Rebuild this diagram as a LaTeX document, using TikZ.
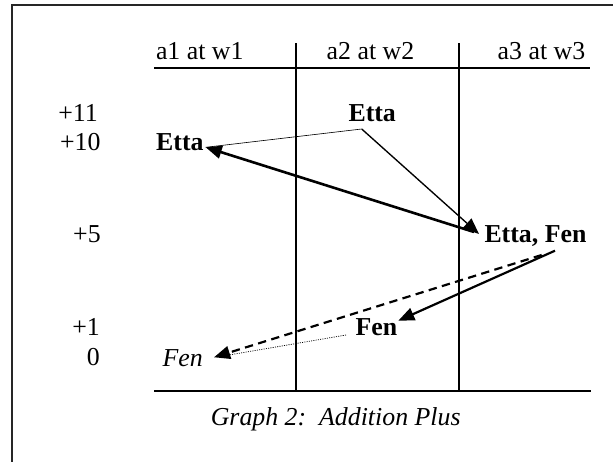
\documentclass[tikz,border=0pt]{standalone}
\usepackage{fontspec}
\setmainfont{Liberation Serif}
\usetikzlibrary{arrows.meta}
\tikzset{
  lbl/.style={inner sep=0pt, outer sep=0pt, anchor=base west, font=\fontsize{12.4}{14}\selectfont},
  lblr/.style={lbl, anchor=base east},
  bl/.style={lbl, font=\fontsize{12.4}{14}\selectfont\bfseries},
  il/.style={lbl, font=\fontsize{12.4}{14}\selectfont\itshape},
  rule/.style={line width=1.05pt},
  colline/.style={line width=0.85pt},
  tip/.style={-{Triangle[length=7.7pt,width=6.2pt]}},
  thinline/.style={line width=0.3pt},
  medline/.style={line width=0.65pt, tip},
  thickline/.style={line width=1.25pt, tip},
  solidline/.style={line width=1.05pt, tip},
  dashline/.style={line width=1.05pt, dash pattern=on 4pt off 2.6pt, tip},
  dotline/.style={line width=0.35pt, dash pattern=on 0.5pt off 0.6pt}
}
\begin{document}
\begin{tikzpicture}[x=0.48pt, y=-0.48pt]
\useasboundingbox (0,0) rectangle (613,462);
\clip (0,0) rectangle (613,462);
% frame
\draw[line width=0.85pt, black!85] (11.7,480) -- (11.7,5) -- (630,5);
% table rules
\draw[rule] (154,67.7) -- (590,67.7);
\draw[rule] (154,391) -- (590.7,391);
\draw[colline] (295.7,43.3) -- (295.7,391);
\draw[colline] (459,43.3) -- (459,391);
% headers
\node[lbl] (h1) at (156,59.3) {a1 at w1};
\node[lbl] (h2) at (326.7,59.3) {a2 at w2};
\node[lbl] (h3) at (497.7,59.3) {a3 at w3};
% row labels
\node[lblr] (r11) at (97.8,121.5) {+11};
\node[lblr] (r10) at (100.5,150.7) {+10};
\node[lblr] (r5) at (100.7,242.7) {+5};
\node[lblr] (r1) at (99.8,335) {+1};
\node[lblr] (r0) at (99.8,365.7) {0};
% entries
\node[bl, anchor=base] (ettaTop) at (372.2,121) {Etta};
\node[bl] (ettaLeft) at (156.2,150.7) {Etta};
\node[bl] (ettaFen) at (484.5,242.7) {Etta, Fen};
\node[bl] (fenMid) at (355.5,335) {Fen};
\node[il] (fenLeft) at (162.7,366) {Fen};
% caption
\node[il, anchor=base] (cap) at (335.7,425) {Graph 2:\ \ Addition Plus};
% connector end points
\coordinate (ettaTopS) at (361.7,129);
\coordinate (ettaLeftT) at (205.7,147.3);
\coordinate (ettaFenT) at (479,234);
\coordinate (ettaFenS) at (474,232);
\coordinate (ettaFenS2) at (555,250.7);
\coordinate (ettaFenS3) at (541.7,255);
\coordinate (fenMidT) at (398.3,320.7);
\coordinate (fenMidS) at (346,335);
\coordinate (fenLeftT) at (214,357.3);
\coordinate (fenLeftD) at (226,355.5);
% connectors
\draw[thinline] (ettaTopS) -- (ettaLeftT);
\draw[medline] (ettaTopS) -- (ettaFenT);
\draw[thickline] (ettaFenS) -- (ettaLeftT);
\draw[solidline] (ettaFenS2) -- (fenMidT);
\draw[dotline] (fenMidS) -- (fenLeftD);
\draw[dashline] (ettaFenS3) -- (fenLeftT);
\end{tikzpicture}
\end{document}
